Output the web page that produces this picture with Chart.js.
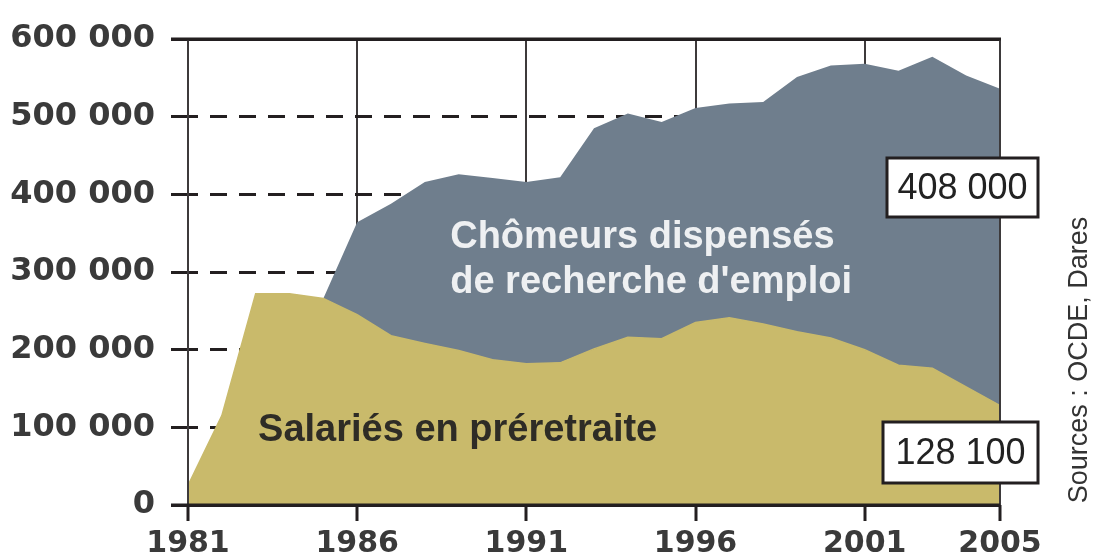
<!DOCTYPE html>
<html>
<head>
<meta charset="utf-8">
<script src="https://cdn.jsdelivr.net/npm/chart.js@4.4.0/dist/chart.umd.min.js"></script>
<style>
  html, body { margin: 0; padding: 0; background: #fff; }
  #wrap { width: 1094px; height: 559px; }
</style>
</head>
<body>
<div id="wrap"><canvas id="chart" width="1094" height="559"></canvas></div>
<script>
// data
const years = [1981, 1982, 1983, 1984, 1985, 1986, 1987, 1988, 1989, 1990, 1991, 1992, 1993,
               1994, 1995, 1996, 1997, 1998, 1999, 2000, 2001, 2002, 2003, 2004, 2005];
const preretraite = [25000, 115000, 272000, 272000, 266000, 245000, 218000, 208000, 199000, 187000,
                     182000, 183000, 201000, 216000, 214000, 235000, 241000, 233000, 223000, 215000,
                     200000, 180000, 176000, 152000, 128100];
const dispenses = [0, 0, 0, 0, 0, 119000, 170000, 208000, 227000, 234000,
                   234000, 239000, 284000, 288000, 279000, 276000, 276000, 286000, 328000, 351000,
                   368000, 379000, 401000, 401000, 408000];
const xTicks = [1981, 1986, 1991, 1996, 2001, 2005];
const yTicks = [0, 100000, 200000, 300000, 400000, 500000, 600000];
const sourceText = 'Sources : OCDE, Dares';

const GOLD = '#c9ba6b';
const SLATE = '#6f7e8d';
const INK = '#231f20';

const fmt = v => String(v).replace(/\B(?=(\d{3})+(?!\d))/g, ' ');

// in-chart labels, placed in data units
const areaLabels = [
  { lines: ['Chômeurs dispensés', "de recherche d'emploi"], x: 1988.75, y: 331000, step: 45, color: '#eef0f2' },
  { lines: ['Salariés en préretraite'], x: 1983.07, y: 82000, step: 0, color: '#2e2c26' }
];

function line(ctx, x1, y1, x2, y2) {
  ctx.beginPath();
  ctx.moveTo(x1, y1);
  ctx.lineTo(x2, y2);
  ctx.stroke();
}

const overlay = {
  id: 'overlay',
  afterDatasetsDraw(chart) {
    const { ctx, chartArea: a, scales: { x, y } } = chart;
    ctx.save();

    // frame over the filled areas
    ctx.strokeStyle = '#3d3a3b';
    ctx.lineWidth = 2;
    line(ctx, a.left, a.top, a.left, a.bottom);
    line(ctx, a.right, a.top, a.right, a.bottom);
    ctx.strokeStyle = INK;
    ctx.lineWidth = 3;
    line(ctx, a.left - 17, y.getPixelForValue(0), a.right, y.getPixelForValue(0));
    line(ctx, a.left - 17, y.getPixelForValue(600000), a.right + 1, y.getPixelForValue(600000));

    // area names
    ctx.font = 'bold 38px "Liberation Sans", Arial, sans-serif';
    ctx.textAlign = 'left';
    ctx.textBaseline = 'alphabetic';
    areaLabels.forEach(l => {
      ctx.fillStyle = l.color;
      l.lines.forEach((t, i) => {
        ctx.fillText(t, x.getPixelForValue(l.x), y.getPixelForValue(l.y) + i * l.step);
      });
    });

    // last values in boxes
    const last = years.length - 1;
    const boxes = [
      { text: fmt(dispenses[last]), left: a.right - 113, top: 158, w: 151, h: 59 },
      { text: fmt(preretraite[last]), left: a.right - 117, top: 422, w: 155, h: 61 }
    ];
    ctx.font = '36px "Liberation Sans", Arial, sans-serif';
    ctx.textAlign = 'center';
    ctx.textBaseline = 'middle';
    boxes.forEach(b => {
      ctx.fillStyle = '#fff';
      ctx.fillRect(b.left, b.top, b.w, b.h);
      ctx.strokeStyle = INK;
      ctx.lineWidth = 3;
      ctx.strokeRect(b.left, b.top, b.w, b.h);
      ctx.fillStyle = '#222';
      ctx.fillText(b.text, b.left + b.w / 2, b.top + b.h / 2 + 2);
    });
    ctx.restore();
  },
  afterDraw(chart) {
    const { ctx } = chart;
    ctx.save();
    ctx.translate(1080, 360);
    ctx.rotate(-Math.PI / 2);
    ctx.font = '27px "Liberation Sans", Arial, sans-serif';
    ctx.fillStyle = '#333';
    ctx.textAlign = 'center';
    ctx.textBaseline = 'middle';
    ctx.fillText(sourceText, 0, 0);
    ctx.restore();
  }
};

const ctx = document.getElementById('chart').getContext('2d');
const chart = new Chart(ctx, {
  type: 'line',
  data: {
    datasets: [
      {
        label: 'Salariés en préretraite',
        data: years.map((yr, i) => ({ x: yr, y: preretraite[i] })),
        backgroundColor: GOLD,
        borderColor: GOLD,
        borderWidth: 1.5,
        pointRadius: 0,
        tension: 0,
        fill: 'origin'
      },
      {
        label: "Chômeurs dispensés de recherche d'emploi",
        data: years.map((yr, i) => ({ x: yr, y: dispenses[i] })),
        backgroundColor: SLATE,
        borderColor: SLATE,
        borderWidth: 0,
        pointRadius: 0,
        tension: 0,
        fill: '-1'
      }
    ]
  },
  options: {
    responsive: false,
    animation: false,
    devicePixelRatio: 1,
    layout: { padding: { top: 39, right: 94, left: 0, bottom: 0 } },
    plugins: {
      legend: { display: false },
      tooltip: { enabled: false }
    },
    scales: {
      x: {
        type: 'linear',
        min: 1981,
        max: 2005,
        afterBuildTicks: s => { s.ticks = xTicks.map(v => ({ value: v })); },
        afterFit: s => { s.height = 54; },
        ticks: {
          autoSkip: false,
          maxRotation: 0,
          padding: 5,
          color: '#3a3a3a',
          font: { family: '"DejaVu Sans", sans-serif', size: 30, weight: 'bold' },
          callback: v => String(v)
        },
        grid: {
          color: '#3d3a3b',
          lineWidth: 2,
          tickLength: 16,
          tickColor: INK,
          tickWidth: 3
        },
        border: { display: false }
      },
      y: {
        stacked: true,
        min: 0,
        max: 600000,
        afterBuildTicks: s => { s.ticks = yTicks.map(v => ({ value: v })); },
        afterFit: s => { s.width = 188; },
        ticks: {
          padding: 16,
          color: '#3a3a3a',
          font: { family: '"DejaVu Sans", sans-serif', size: 32, weight: 'bold' },
          callback: v => fmt(v)
        },
        grid: {
          color: INK,
          lineWidth: 3,
          tickLength: 17,
          tickColor: INK,
          tickWidth: 3
        },
        border: {
          display: false,
          dash: c => (c.tick && c.tick.value > 0 && c.tick.value < 600000) ? [17, 12] : [],
          dashOffset: 7
        }
      }
    }
  },
  plugins: [overlay]
});
</script>
</body>
</html>
